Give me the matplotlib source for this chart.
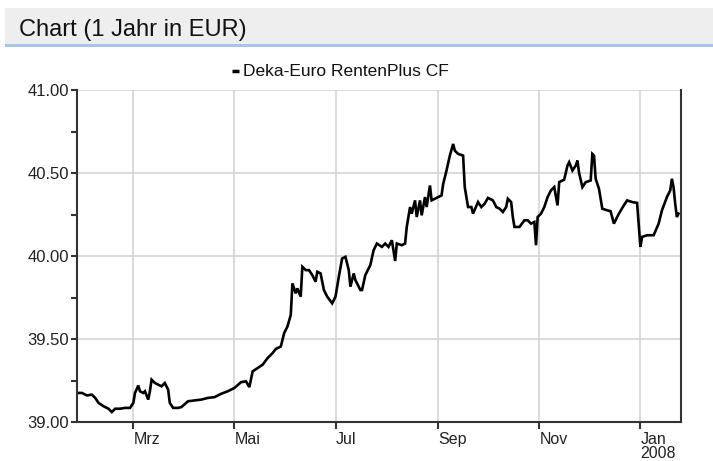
import pandas as pd
import matplotlib
matplotlib.use("Agg")
import matplotlib.pyplot as plt
import matplotlib.dates as mdates
from matplotlib.lines import Line2D
from matplotlib.ticker import MultipleLocator, FixedLocator

plt.rcParams["font.family"] = ["Liberation Sans", "DejaVu Sans"]

# Kursverlauf
dates = [
    "2007-01-26", "2007-01-29", "2007-02-01", "2007-02-04", "2007-02-06", "2007-02-08",
    "2007-02-11", "2007-02-14", "2007-02-16", "2007-02-18", "2007-02-21", "2007-02-24",
    "2007-02-27", "2007-03-01", "2007-03-02", "2007-03-04", "2007-03-05", "2007-03-07",
    "2007-03-08", "2007-03-10", "2007-03-11", "2007-03-12", "2007-03-14", "2007-03-16",
    "2007-03-18", "2007-03-20", "2007-03-22", "2007-03-23", "2007-03-25", "2007-03-28",
    "2007-03-30", "2007-04-03", "2007-04-07", "2007-04-11", "2007-04-15", "2007-04-19",
    "2007-04-23", "2007-04-27", "2007-05-01", "2007-05-05", "2007-05-08", "2007-05-10",
    "2007-05-12", "2007-05-15", "2007-05-18", "2007-05-21", "2007-05-24", "2007-05-26",
    "2007-05-29", "2007-05-31", "2007-06-02", "2007-06-04", "2007-06-05", "2007-06-07",
    "2007-06-08", "2007-06-10", "2007-06-11", "2007-06-13", "2007-06-15", "2007-06-17",
    "2007-06-19", "2007-06-20", "2007-06-22", "2007-06-24", "2007-06-26", "2007-06-29",
    "2007-07-01", "2007-07-03", "2007-07-05", "2007-07-07", "2007-07-09", "2007-07-10",
    "2007-07-12", "2007-07-13", "2007-07-16", "2007-07-17", "2007-07-19", "2007-07-22",
    "2007-07-24", "2007-07-26", "2007-07-29", "2007-07-31", "2007-08-02", "2007-08-04",
    "2007-08-06", "2007-08-07", "2007-08-10", "2007-08-12", "2007-08-13", "2007-08-15",
    "2007-08-16", "2007-08-18", "2007-08-19", "2007-08-21", "2007-08-22", "2007-08-24",
    "2007-08-25", "2007-08-27", "2007-08-28", "2007-08-30", "2007-09-03", "2007-09-04",
    "2007-09-06", "2007-09-08", "2007-09-10", "2007-09-11", "2007-09-13", "2007-09-16",
    "2007-09-17", "2007-09-19", "2007-09-21", "2007-09-22", "2007-09-25", "2007-09-27",
    "2007-09-29", "2007-10-01", "2007-10-04", "2007-10-06", "2007-10-08", "2007-10-10",
    "2007-10-12", "2007-10-13", "2007-10-15", "2007-10-16", "2007-10-17", "2007-10-20",
    "2007-10-23", "2007-10-25", "2007-10-27", "2007-10-29", "2007-10-30", "2007-10-31",
    "2007-11-02", "2007-11-04", "2007-11-06", "2007-11-08", "2007-11-10", "2007-11-12",
    "2007-11-13", "2007-11-16", "2007-11-18", "2007-11-19", "2007-11-21", "2007-11-23",
    "2007-11-24", "2007-11-25", "2007-11-27", "2007-11-29", "2007-12-02", "2007-12-03",
    "2007-12-04", "2007-12-05", "2007-12-07", "2007-12-09", "2007-12-12", "2007-12-14",
    "2007-12-16", "2007-12-19", "2007-12-22", "2007-12-24", "2007-12-27", "2007-12-30",
    "2008-01-01", "2008-01-02", "2008-01-05", "2008-01-09", "2008-01-12", "2008-01-14",
    "2008-01-17", "2008-01-19", "2008-01-20", "2008-01-21", "2008-01-22", "2008-01-23",
    "2008-01-24",
]
values = [
    39.175, 39.175, 39.160, 39.165, 39.145, 39.115,
    39.095, 39.080, 39.060, 39.080, 39.080, 39.085,
    39.085, 39.115, 39.175, 39.220, 39.185, 39.175,
    39.185, 39.135, 39.185, 39.255, 39.235, 39.225,
    39.215, 39.235, 39.195, 39.115, 39.085, 39.085,
    39.090, 39.125, 39.130, 39.135, 39.145, 39.150,
    39.170, 39.185, 39.205, 39.240, 39.245, 39.210,
    39.305, 39.325, 39.345, 39.385, 39.415, 39.440,
    39.455, 39.535, 39.575, 39.645, 39.835, 39.775,
    39.805, 39.755, 39.935, 39.915, 39.915, 39.885,
    39.845, 39.905, 39.895, 39.795, 39.755, 39.715,
    39.755, 39.875, 39.985, 39.995, 39.915, 39.815,
    39.895, 39.855, 39.795, 39.795, 39.885, 39.945,
    40.035, 40.075, 40.055, 40.075, 40.055, 40.095,
    39.970, 40.075, 40.065, 40.075, 40.175, 40.295,
    40.255, 40.335, 40.235, 40.335, 40.245, 40.355,
    40.295, 40.425, 40.335, 40.345, 40.365, 40.435,
    40.515, 40.605, 40.675, 40.635, 40.615, 40.605,
    40.415, 40.295, 40.295, 40.255, 40.325, 40.295,
    40.315, 40.350, 40.335, 40.295, 40.285, 40.265,
    40.295, 40.345, 40.325, 40.235, 40.175, 40.175,
    40.215, 40.215, 40.195, 40.205, 40.065, 40.235,
    40.255, 40.295, 40.355, 40.395, 40.415, 40.305,
    40.445, 40.460, 40.545, 40.565, 40.515, 40.545,
    40.575, 40.500, 40.415, 40.445, 40.455, 40.615,
    40.605, 40.465, 40.405, 40.285, 40.275, 40.270,
    40.195, 40.255, 40.305, 40.335, 40.325, 40.320,
    40.055, 40.115, 40.125, 40.125, 40.195, 40.275,
    40.355, 40.395, 40.465, 40.415, 40.315, 40.235,
    40.255,
]

month_ticks = ["2007-03-01", "2007-05-01", "2007-07-01", "2007-09-01", "2007-11-01", "2008-01-01"]
month_labels = ["Mrz", "Mai", "Jul", "Sep", "Nov", "Jan\n2008"]
series_name = "Deka-Euro RentenPlus CF"
title = "Chart (1 Jahr in EUR)"

W, H = 713, 461
fig = plt.figure(figsize=(W / 100, H / 100), dpi=100)

# Kopfzeile
fig.patches.append(plt.Rectangle((5 / W, 1 - 45 / H), 1, 37 / H, transform=fig.transFigure,
                                 facecolor="#eeeeee", edgecolor="none"))
fig.patches.append(plt.Rectangle((5 / W, 1 - 47 / H), 1, 2.5 / H, transform=fig.transFigure,
                                 facecolor="#a3c6ee", edgecolor="none"))
fig.text(19 / W, 1 - 36 / H, title, fontsize=17, color="#111111", va="baseline", ha="left")

ax = fig.add_axes([77 / W, 1 - 422 / H, (681 - 77) / W, (422 - 90) / H])

x = pd.to_datetime(dates)
ax.plot(x, values, color="black", lw=1.9, solid_joinstyle="miter")

ax.set_xlim(pd.Timestamp("2007-01-26"), pd.Timestamp("2008-01-25 12:00"))
ax.set_ylim(39.0, 41.0)

ax.yaxis.set_major_locator(MultipleLocator(0.5))
ax.yaxis.set_minor_locator(MultipleLocator(0.25))
ax.yaxis.set_major_formatter(plt.FuncFormatter(lambda v, p: f"{v:.2f}"))
ax.xaxis.set_major_locator(FixedLocator(mdates.date2num(pd.to_datetime(month_ticks))))
ax.set_xticklabels(month_labels, ha="left", va="top", linespacing=0.95)

ax.grid(True, which="major", color="#d4d4d4", lw=1.2)
ax.set_axisbelow(True)

for s in ["left", "bottom", "right"]:
    ax.spines[s].set_color("#333333")
    ax.spines[s].set_linewidth(1.5)
ax.spines["top"].set_visible(False)

ax.tick_params(axis="y", which="both", direction="out", length=4, width=1.5, color="#333333",
               labelsize=12, labelcolor="#222222", pad=2)
ax.tick_params(axis="x", which="major", direction="out", length=5, width=1.5, color="#333333",
               labelsize=11.5, labelcolor="#222222", pad=2)

# Legende: kurzer Strich + Name
fig.add_artist(Line2D([232 / W, 239 / W], [1 - 71 / H, 1 - 71 / H], color="black", lw=2.5,
                      solid_capstyle="butt", transform=fig.transFigure))
fig.text(243 / W, 1 - 71 / H, series_name, fontsize=12.5, ha="left", va="center",
         color="#111111")

fig.savefig("out.png", dpi=100)
